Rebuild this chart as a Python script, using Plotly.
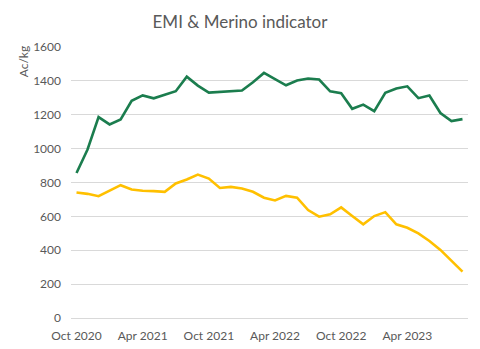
import plotly.graph_objects as go

months = ["Oct 2020", "Nov 2020", "Dec 2020", "Jan 2021", "Feb 2021", "Mar 2021",
          "Apr 2021", "May 2021", "Jun 2021", "Jul 2021", "Aug 2021", "Sep 2021",
          "Oct 2021", "Nov 2021", "Dec 2021", "Jan 2022", "Feb 2022", "Mar 2022",
          "Apr 2022", "May 2022", "Jun 2022", "Jul 2022", "Aug 2022", "Sep 2022",
          "Oct 2022", "Nov 2022", "Dec 2022", "Jan 2023", "Feb 2023", "Mar 2023",
          "Apr 2023", "May 2023", "Jun 2023", "Jul 2023", "Aug 2023", "Sep 2023"]

emi = [856, 995, 1186, 1143, 1172, 1282, 1314, 1297, 1318, 1339, 1425, 1372,
       1331, 1335, 1339, 1343, 1392, 1447, 1410, 1374, 1402, 1414, 1408, 1338,
       1327, 1235, 1260, 1221, 1329, 1355, 1368, 1298, 1314, 1210, 1163, 1174]

merino = [741, 733, 719, 751, 784, 759, 751, 749, 745, 794, 818, 847,
          823, 768, 774, 765, 745, 710, 694, 721, 710, 637, 598, 612,
          653, 602, 553, 602, 625, 553, 533, 500, 455, 402, 337, 274]

tick_labels = ["Oct 2020", "Apr 2021", "Oct 2021", "Apr 2022", "Oct 2022", "Apr 2023"]

font_fam = "Lato, 'Open Sans', sans-serif"
grey = "#595959"

fig = go.Figure()
fig.add_trace(go.Scatter(x=months, y=emi, mode="lines", name="EMI",
                         line=dict(color="#1B7D4E", width=2.6)))
fig.add_trace(go.Scatter(x=months, y=merino, mode="lines", name="Merino",
                         line=dict(color="#FFC000", width=2.6)))

fig.update_layout(
    width=480, height=349,
    margin=dict(l=71, r=12, t=47, b=31),
    paper_bgcolor="white", plot_bgcolor="white",
    showlegend=False,
    font=dict(family=font_fam, color=grey, size=12),
    title=dict(text="EMI & Merino indicator", x=240/480, xanchor="center",
               y=1 - 22/349, yanchor="middle",
               font=dict(size=17, color=grey, family=font_fam)),
    xaxis=dict(type="category", range=[-0.5, 35.5], tickmode="array",
               tickvals=tick_labels, ticktext=tick_labels, showgrid=False,
               showline=False, ticks="", zeroline=False, ticklabelstandoff=9,
               automargin=False, tickfont=dict(size=12, color=grey)),
    yaxis=dict(range=[0, 1600], dtick=200, showgrid=True, gridcolor="#D9D9D9",
               gridwidth=1, zeroline=True, zerolinecolor="#D9D9D9", zerolinewidth=1,
               showline=False, ticks="", ticklabelstandoff=9, automargin=False,
               tickfont=dict(size=12, color=grey)),
    annotations=[dict(text="Ac/kg", textangle=-90, xref="paper", yref="paper",
                      x=-(71 - 23) / 397, y=(318.3 - 62) / 271.6,
                      xanchor="center", yanchor="middle", showarrow=False,
                      font=dict(size=12, color=grey, family=font_fam))],
)

fig.write_html("out.html")
